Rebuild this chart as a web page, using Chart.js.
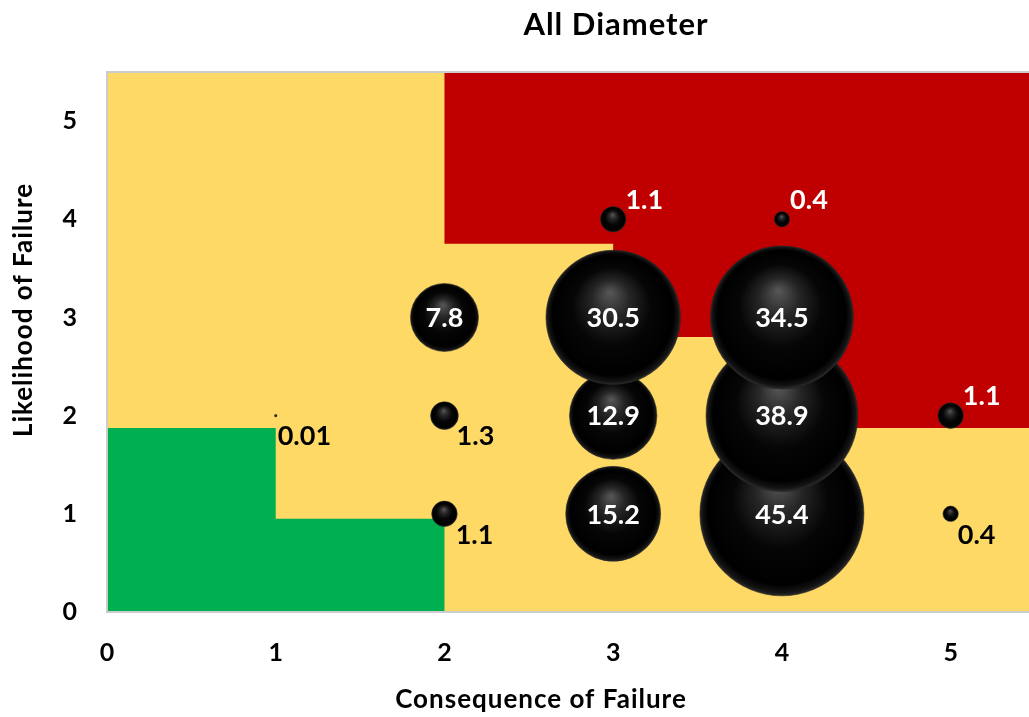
<!DOCTYPE html>
<html>
<head>
<meta charset="utf-8">
<script src="https://cdn.jsdelivr.net/npm/chart.js@4.4.1/dist/chart.umd.min.js"></script>
<style>
  html, body { margin: 0; padding: 0; background: #fff; overflow: hidden; }
  canvas { display: block; }
</style>
</head>
<body>
<canvas id="riskChart" width="1040" height="717"></canvas>
<script>
// Risk matrix: share of pipe length (all diameters) per consequence / likelihood cell
const consequence = [1, 2, 2, 2, 3, 3, 3, 3, 4, 4, 4, 4, 5, 5];
const likelihood  = [2, 1, 2, 3, 1, 2, 3, 4, 1, 2, 3, 4, 1, 2];
const sharePct    = [0.01, 1.1, 1.3, 7.8, 15.2, 12.9, 30.5, 1.1, 45.4, 38.9, 34.5, 0.4, 0.4, 1.1];
const tickValues  = [0, 1, 2, 3, 4, 5];
const axisMax     = 5.5;

// Risk zones as polygons in axis units
const greenZone = [[0, 0], [0, 1.875], [1, 1.875], [1, 0.95], [2, 0.95], [2, 0]];
const redZone   = [[2, 5.5], [2, 3.75], [3, 3.75], [3, 2.8], [4, 2.8], [4, 1.875], [5.5, 1.875], [5.5, 5.5]];

const FONT = 'Lato, "Open Sans", sans-serif';
const BUBBLE_SCALE = 12.17; // px of radius per sqrt(percent)

function bubbleRadius(v) { return BUBBLE_SCALE * Math.sqrt(v); }

function insidePolygon(px, py, poly) {
  let inside = false;
  for (let i = 0, j = poly.length - 1; i < poly.length; j = i++) {
    const [xi, yi] = poly[i], [xj, yj] = poly[j];
    if ((yi > py) !== (yj > py) && px < (xj - xi) * (py - yi) / (yj - yi) + xi) inside = !inside;
  }
  return inside;
}

// glossy black sphere shading for each bubble
function sphereFill(ctx) {
  const chart = ctx.chart;
  const p = ctx.parsed;
  if (!p || !chart.scales.x || !chart.scales.y || !ctx.raw) return '#000';
  const cx = chart.scales.x.getPixelForValue(p.x);
  const cy = chart.scales.y.getPixelForValue(p.y);
  const r = Math.max(bubbleRadius(ctx.raw.v), 1);
  if (!isFinite(cx) || !isFinite(cy)) return '#000';
  const g = chart.ctx.createRadialGradient(cx - 0.05 * r, cy - 0.38 * r, 0, cx, cy, r);
  g.addColorStop(0, '#585858');
  g.addColorStop(0.28, '#262626');
  g.addColorStop(0.58, '#060606');
  g.addColorStop(0.9, '#000000');
  g.addColorStop(0.97, '#141414');
  g.addColorStop(1, '#2e2e2e');
  return g;
}

const points = consequence.map((c, i) => ({ x: c, y: likelihood[i], v: sharePct[i] }));

const zonesPlugin = {
  id: 'zones',
  beforeDatasetsDraw(chart) {
    const { ctx, chartArea: a, scales: { x, y } } = chart;
    ctx.save();
    ctx.beginPath();
    ctx.rect(a.left, a.top, a.right - a.left, a.bottom - a.top);
    ctx.clip();
    ctx.fillStyle = '#FED966';
    ctx.fillRect(a.left, a.top, a.right - a.left, a.bottom - a.top);
    const fillPoly = (poly, color) => {
      ctx.beginPath();
      poly.forEach(([px, py], i) => {
        const X = x.getPixelForValue(px), Y = y.getPixelForValue(py);
        if (i === 0) ctx.moveTo(X, Y); else ctx.lineTo(X, Y);
      });
      ctx.closePath();
      ctx.fillStyle = color;
      ctx.fill();
    };
    fillPoly(greenZone, '#00B050');
    fillPoly(redZone, '#C00000');
    ctx.restore();
    // plot frame
    ctx.save();
    ctx.strokeStyle = '#cccccc';
    ctx.lineWidth = 2;
    ctx.strokeRect(a.left, a.top, a.right - a.left, a.bottom - a.top);
    ctx.restore();
  }
};

const valueLabels = {
  id: 'valueLabels',
  afterDatasetsDraw(chart) {
    const ctx = chart.ctx;
    const meta = chart.getDatasetMeta(0);
    ctx.save();
    ctx.font = 'bold 27px ' + FONT;
    ctx.textBaseline = 'middle';
    meta.data.forEach((el, i) => {
      const pt = points[i];
      const r = bubbleRadius(pt.v);
      const text = String(pt.v);
      if (r > 25) {
        ctx.fillStyle = '#ffffff';
        ctx.textAlign = 'center';
        ctx.fillText(text, el.x, el.y + 1);
      } else if (insidePolygon(pt.x, pt.y, redZone)) {
        ctx.fillStyle = '#ffffff';
        ctx.textAlign = 'left';
        ctx.fillText(text, el.x + r * 0.8 + 2, el.y - 19);
      } else {
        ctx.fillStyle = '#000000';
        ctx.textAlign = 'left';
        ctx.fillText(text, el.x + r * 0.8 + 1, el.y + 21);
      }
    });
    ctx.restore();
  }
};

const titles = {
  id: 'titles',
  afterDraw(chart) {
    const ctx = chart.ctx;
    ctx.save();
    ctx.fillStyle = '#000';
    ctx.textAlign = 'center';
    ctx.textBaseline = 'middle';
    ctx.letterSpacing = '1px';
    ctx.font = 'bold 31px ' + FONT;
    ctx.fillText('All Diameter', 616, 25);
    ctx.font = 'bold 26px ' + FONT;
    ctx.fillText('Consequence of Failure', 541, 700);
    ctx.translate(24, 310);
    ctx.rotate(-Math.PI / 2);
    ctx.fillText('Likelihood of Failure', 0, 0);
    ctx.restore();
  }
};

const axisCommon = {
  type: 'linear',
  min: 0,
  max: axisMax,
  afterBuildTicks(scale) { scale.ticks = tickValues.map(v => ({ value: v })); },
  grid: { display: false, drawTicks: false, tickLength: 0 },
  border: { display: false },
  ticks: { color: '#000', font: { family: FONT, size: 25, weight: 'bold' } }
};

new Chart(document.getElementById('riskChart'), {
  type: 'bubble',
  data: {
    datasets: [{
      data: points,
      backgroundColor: sphereFill,
      borderColor: 'rgba(30,30,30,0.9)',
      borderWidth: 0.6,
      radius: ctx => bubbleRadius(ctx.raw ? ctx.raw.v : 0),
      hoverRadius: 0
    }]
  },
  options: {
    responsive: false,
    animation: false,
    events: [],
    layout: { autoPadding: false, padding: { top: 72, right: 5, left: 0, bottom: 0 } },
    plugins: { legend: { display: false }, tooltip: { enabled: false }, title: { display: false } },
    scales: {
      x: Object.assign({}, axisCommon, {
        ticks: Object.assign({}, axisCommon.ticks, { padding: 26 }),
        afterFit(scale) { scale.height = 105; }
      }),
      y: Object.assign({}, axisCommon, {
        ticks: Object.assign({}, axisCommon.ticks, { padding: 30 }),
        afterFit(scale) { scale.width = 107; }
      })
    }
  },
  plugins: [zonesPlugin, valueLabels, titles]
});
</script>
</body>
</html>
